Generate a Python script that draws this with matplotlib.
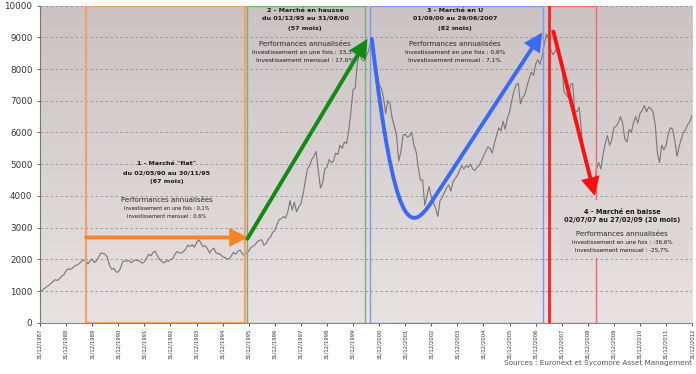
import numpy as np
import matplotlib.pyplot as plt
from matplotlib.patches import Rectangle, FancyArrowPatch
from matplotlib.path import Path
from matplotlib.colors import LinearSegmentedColormap

# indice base 1000 au 31/12/1987, fins de mois
start_value = 1000
v1988 = [1020, 1080, 1130, 1180, 1240, 1300, 1360, 1330, 1400, 1470, 1520, 1640]
v1989 = [1700, 1680, 1730, 1790, 1820, 1860, 1930, 1970, 1990, 1850, 1950, 2010]
v1990 = [1900, 1960, 2080, 2200, 2190, 2150, 2060, 1800, 1680, 1720, 1600, 1600]
v1991 = [1720, 1920, 1960, 1940, 1960, 1890, 1950, 1980, 1960, 1940, 1880, 1920]
v1992 = [2040, 2160, 2110, 2220, 2250, 2110, 2000, 1930, 1890, 1960, 1930, 2000]
v1993 = [2010, 2150, 2250, 2200, 2200, 2250, 2320, 2450, 2400, 2460, 2380, 2520]
v1994 = [2620, 2520, 2400, 2430, 2340, 2200, 2300, 2350, 2200, 2180, 2160, 2080]
v1995 = [2060, 2020, 2010, 2110, 2220, 2160, 2260, 2290, 2180, 2120, 2200, 2260]
v1996 = [2370, 2420, 2460, 2560, 2600, 2620, 2450, 2500, 2640, 2700, 2850, 2900]
v1997 = [3100, 3250, 3280, 3350, 3300, 3500, 3850, 3550, 3800, 3500, 3650, 3750]
v1998 = [4050, 4450, 4850, 4950, 5150, 5250, 5400, 4800, 4250, 4400, 4850, 4900]
v1999 = [5150, 5050, 5100, 5350, 5300, 5600, 5500, 5700, 5650, 6050, 6650, 7350]
v2000 = [7400, 8200, 8500, 8300, 8250, 8400, 8550, 8800, 8500, 8250, 7900, 7500]
v2001 = [7400, 7100, 6600, 7000, 6900, 6450, 6200, 5900, 5100, 5400, 5900, 5950]
v2002 = [5850, 5900, 6000, 5600, 5400, 4900, 4500, 4500, 3700, 4000, 4300, 3950]
v2003 = [3800, 3600, 3350, 3850, 3950, 4100, 4250, 4350, 4150, 4450, 4550, 4650]
v2004 = [4800, 4950, 4850, 4950, 4900, 5000, 4850, 4800, 4900, 4950, 5100, 5250]
v2005 = [5400, 5550, 5500, 5350, 5650, 5900, 6150, 6050, 6350, 6100, 6450, 6650]
v2006 = [7000, 7300, 7500, 7550, 6900, 7100, 7200, 7450, 7700, 7900, 7800, 8150]
v2007 = [8300, 8150, 8400, 8800, 9100, 8950, 8600, 8450, 8550, 8700, 8400, 8300]
v2008 = [7300, 7200, 7100, 7500, 7550, 6700, 6650, 6800, 6100, 5300, 5000, 4900]
v2009 = [4550, 4150, 4300, 4850, 5050, 4850, 5300, 5650, 5900, 5600, 5750, 6150]
v2010 = [6200, 6300, 6500, 6300, 5800, 5700, 6100, 6000, 6300, 6500, 6300, 6600]
v2011 = [6700, 6850, 6650, 6800, 6750, 6650, 6250, 5350, 5050, 5600, 5450, 5600]
v2012 = [5950, 6150, 6100, 5750, 5250, 5550, 5800, 6000, 6100, 6250, 6350, 6550]

tick_years = list(range(1988, 2014))
tick_labels = ["31/12/%d" % (y - 1) for y in tick_years]

# phases (debut, fin en annees decimales)
phase_flat = (1989.77, 1995.85)
phase_hausse = (1995.94, 2000.46)
phase_u = (2000.65, 2007.29)
phase_baisse = (2007.52, 2009.32)

# fleches (x0, y0, x1, y1)
arrow_flat = (1989.77, 2690, 1995.97, 2690)
arrow_hausse = (1995.95, 2650, 2000.55, 8950)
arrow_baisse = (2007.68, 9180, 2009.27, 4000)
u_curve = [(2000.72, 8950), (2001.6, 2800), (2002.2, 2800), (2003.0, 3800), (2007.25, 9150)]

text_flat = ["1 - Marché \"flat\"", "du 02/05/90 au 30/11/95", "(67 mois)",
             "Investissement en une fois : 0,1%", "Investissement mensuel : 0,6%"]
text_hausse = ["2 - Marché en hausse", "du 01/12/95 au 31/08/00", "(57 mois)",
               "Investissement en une fois : 33,3%", "Investissement mensuel : 17,0%"]
text_u = ["3 - Marché en U", "01/09/00 au 29/06/2007", "(82 mois)",
          "Investissement en une fois : 0,6%", "Investissement mensuel : 7,1%"]
text_baisse = ["4 - Marché en baisse", "02/07/07 au 27/02/09 (20 mois)", None,
               "Investissement en une fois : -36,6%", "Investissement mensuel : -25,7%"]

values = [start_value] + v1988 + v1989 + v1990 + v1991 + v1992 + v1993 + v1994 + v1995 + \
    v1996 + v1997 + v1998 + v1999 + v2000 + v2001 + v2002 + v2003 + v2004 + v2005 + \
    v2006 + v2007 + v2008 + v2009 + v2010 + v2011 + v2012
years = 1988 + np.arange(len(values)) / 12.0

fig = plt.figure(figsize=(6.96, 3.74), dpi=100)
ax = fig.add_axes([0.0575, 0.137, 0.937, 0.848])

grad = LinearSegmentedColormap.from_list("bg", ["#e8e2e2", "#cac2c3"])
ax.imshow(np.linspace(0, 1, 256).reshape(-1, 1), extent=[0, 1, 0, 1], transform=ax.transAxes,
          cmap=grad, origin="lower", aspect="auto", zorder=0)

ax.plot(years, values, color="#777777", lw=0.8, zorder=2)

# cadres des phases
ax.add_patch(Rectangle((phase_flat[0], 0), phase_flat[1] - phase_flat[0], 10000,
                       fill=False, ec="#f3a06a", lw=1.6, zorder=3))
ax.add_patch(Rectangle((phase_hausse[0], 0), phase_hausse[1] - phase_hausse[0], 10000,
                       fill=False, ec="#78b078", lw=1.0, zorder=3))
ax.add_patch(Rectangle((phase_u[0], 0), phase_u[1] - phase_u[0], 10000,
                       fill=False, ec="#7d98ee", lw=1.0, zorder=3))
ax.add_patch(Rectangle((phase_baisse[0], 0), phase_baisse[1] - phase_baisse[0], 10000,
                       fill=False, ec="#ee6a6a", lw=1.0, zorder=3))
ax.plot([phase_baisse[0], phase_baisse[0]], [0, 10000], color="#ff1f1f", lw=2, zorder=3)


def arrow(a, color):
    ax.add_patch(FancyArrowPatch((a[0], a[1]), (a[2], a[3]), arrowstyle="-|>,head_length=0.75,head_width=0.38",
                                 mutation_scale=12, color=color, lw=2.8, zorder=5,
                                 shrinkA=0, shrinkB=0, joinstyle="miter"))


arrow(arrow_flat, "#f58426")
arrow(arrow_hausse, "#138a13")
arrow(arrow_baisse, "#ff1010")

codes = [Path.MOVETO, Path.CURVE4, Path.CURVE4, Path.CURVE4, Path.LINETO]
ax.add_patch(FancyArrowPatch(path=Path(u_curve, codes), arrowstyle="-|>,head_length=0.75,head_width=0.38",
                             mutation_scale=12, color="#3a6af5", lw=2.8, zorder=5, joinstyle="miter"))

# fond du texte de la phase 4
ax.add_patch(Rectangle((2007.94, 2040), 4.9, 1830, fc="#ddd6d6", ec="none", zorder=3.5))


def block(lines, x, ys, title_size, inv_size):
    for i, txt in enumerate(lines):
        if txt is None:
            continue
        ax.text(x, ys[i], txt, ha="center", va="center", fontsize=title_size if i < 3 else inv_size,
                fontweight="bold" if i < 3 else "normal", color="#1a1a1a", zorder=4)


def perf(x, y):
    ax.text(x, y, "Performances annualisées", ha="center", va="center",
            fontsize=5.0, color="#2a2a2a", zorder=4)


block(text_flat, 1992.85, [5010, 4720, 4440, 3620, 3370], 4.6, 3.6)
perf(1992.85, 3870)
block(text_hausse, 1998.16, [9860, 9600, 9290, 8520, 8270], 4.6, 4.3)
perf(1998.16, 8780)
block(text_u, 2003.9, [9860, 9600, 9290, 8520, 8270], 4.6, 4.2)
perf(2003.9, 8780)
block(text_baisse, 2010.32, [3500, 3240, None, 2540, 2290], 4.8, 4.1)
perf(2010.32, 2790)

ax.set_xlim(1988, 2013)
ax.set_ylim(0, 10000)
ax.set_yticks(np.arange(0, 10001, 1000))
ax.set_xticks(tick_years)
ax.set_xticklabels(tick_labels, rotation=90, fontsize=3.8, color="#333333")
ax.tick_params(axis="y", labelsize=6.3, labelcolor="#333333", length=2.5, width=0.6, color="#555555", pad=3)
ax.tick_params(axis="x", length=2.5, width=0.6, color="#333333", pad=2)
ax.grid(axis="y", color="#8f8f8f", lw=0.6, ls=(0, (3, 3)))
ax.set_axisbelow(True)
for s in ["top", "right"]:
    ax.spines[s].set_visible(False)
ax.spines["left"].set_color("#777777")
ax.spines["bottom"].set_color("#888888")

fig.text(0.994, 0.029, "Sources : Euronext et Sycomore Asset Management", ha="right", va="center",
         fontsize=5.2, color="#555555")

fig.savefig("out.png", dpi=100)
